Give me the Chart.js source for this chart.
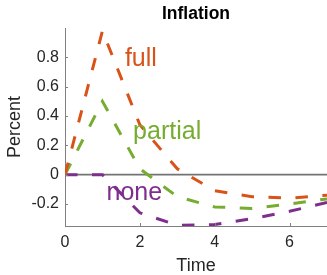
<!DOCTYPE html>
<html>
<head>
<meta charset="utf-8">
<script src="https://cdn.jsdelivr.net/npm/chart.js@4.4.1/dist/chart.umd.min.js"></script>
<style>
  html, body { margin: 0; padding: 0; background: #ffffff; }
  #wrap { width: 327px; height: 275px; position: relative; }
</style>
</head>
<body>
<div id="wrap"><canvas id="c" width="327" height="275"></canvas></div>
<script>
// ---- data ----
const time = [0, 1, 2, 3, 4, 5, 6, 7];
const full = [0, 0.98, 0.34, 0.04, -0.11, -0.15, -0.16, -0.14];
const partial = [0, 0.50, 0.04, -0.15, -0.22, -0.23, -0.20, -0.165];
const none = [0, 0, -0.26, -0.345, -0.34, -0.30, -0.25, -0.19];
const seriesNames = ['full', 'partial', 'none'];
const xTicks = [0, 2, 4, 6];
const xTickLabels = ['0', '2', '4', '6'];
const yTicks = [-0.2, 0, 0.2, 0.4, 0.6, 0.8];
const yTickLabels = ['-0.2', '0', '0.2', '0.4', '0.6', '0.8'];
const xRange = [0, 7];
const yRange = [-0.35, 1.0];
// in-plot label anchors (data coordinates)
const labelX = [1.6, 1.82, 1.11];
const labelY = [0.74, 0.245, -0.17];

const FONT = "'Liberation Sans', Arial, Helvetica, sans-serif";
const colors = ['#D95319', '#77AC30', '#7E2F8E'];
const AXIS = '#808080';

const toPts = arr => arr.map((v, i) => ({ x: time[i], y: v }));

const inward = {
  id: 'inward',
  afterDatasetsDraw(chart) {
    const ctx = chart.ctx;
    const xs = chart.scales.x, ys = chart.scales.y;
    ctx.save();
    ctx.font = '25px ' + FONT;
    ctx.textAlign = 'left';
    ctx.textBaseline = 'alphabetic';
    seriesNames.forEach((n, i) => {
      ctx.fillStyle = colors[i];
      ctx.fillText(n, xs.getPixelForValue(labelX[i]), ys.getPixelForValue(labelY[i]));
    });
    ctx.restore();
  },
  afterDraw(chart) {
    const ctx = chart.ctx;
    const xs = chart.scales.x, ys = chart.scales.y;
    const a = chart.chartArea;
    ctx.save();
    ctx.strokeStyle = AXIS;
    ctx.lineWidth = 1;
    ctx.beginPath();
    yTicks.forEach(v => {
      const p = Math.round(ys.getPixelForValue(v)) + 0.5;
      ctx.moveTo(a.left, p); ctx.lineTo(a.left + 3, p);
    });
    xTicks.forEach(v => {
      const p = Math.round(xs.getPixelForValue(v)) + 0.5;
      ctx.moveTo(p, a.bottom); ctx.lineTo(p, a.bottom - 3);
    });
    ctx.stroke();
    ctx.restore();
  }
};

const lineDs = (label, data, color) => ({
  label, data: toPts(data), borderColor: color, backgroundColor: color,
  borderWidth: 3, borderDash: [12.5, 14.5], borderCapStyle: 'butt',
  pointRadius: 0, tension: 0, fill: false, order: 1
});

new Chart(document.getElementById('c'), {
  type: 'line',
  data: {
    datasets: [
      lineDs(seriesNames[0], full, colors[0]),
      lineDs(seriesNames[1], partial, colors[1]),
      lineDs(seriesNames[2], none, colors[2]),
      {
        label: 'zero', data: [{ x: xRange[0], y: 0 }, { x: xRange[1], y: 0 }],
        borderColor: '#737373', borderWidth: 1.6, pointRadius: 0, order: 10
      }
    ]
  },
  options: {
    responsive: false,
    animation: false,
    devicePixelRatio: 1,
    layout: { padding: 0 },
    plugins: {
      legend: { display: false },
      tooltip: { enabled: false },
      title: {
        display: true, text: 'Inflation', color: '#000', fullSize: false,
        font: { family: FONT, size: 17.5, weight: 'bold', lineHeight: 1.2 },
        padding: { top: 4, bottom: 3 }
      }
    },
    scales: {
      x: {
        type: 'linear', min: xRange[0], max: xRange[1],
        afterBuildTicks: s => { s.ticks = xTicks.map(v => ({ value: v })); },
        afterFit: s => { s.height = 49; },
        grid: { display: true, drawOnChartArea: false, drawTicks: false },
        border: { display: true, color: AXIS, width: 1 },
        ticks: {
          padding: 7, color: '#262626', font: { family: FONT, size: 16 },
          maxRotation: 0, autoSkip: false,
          callback: (v, i) => xTickLabels[i]
        },
        title: {
          display: true, text: 'Time', color: '#262626',
          font: { family: FONT, size: 18, lineHeight: 1 },
          padding: { top: 0, bottom: 0 }
        }
      },
      y: {
        type: 'linear', min: yRange[0], max: yRange[1],
        afterBuildTicks: s => { s.ticks = yTicks.map(v => ({ value: v })); },
        afterFit: s => { s.width = 65; },
        grid: { display: true, drawOnChartArea: false, drawTicks: false },
        border: { display: true, color: AXIS, width: 1 },
        ticks: {
          padding: 6, color: '#262626', font: { family: FONT, size: 16 },
          autoSkip: false,
          callback: (v, i) => yTickLabels[i]
        },
        title: {
          display: true, text: 'Percent', color: '#262626',
          font: { family: FONT, size: 18, lineHeight: 1.2 },
          padding: { top: 4, bottom: 0 }
        }
      }
    }
  },
  plugins: [inward]
});
</script>
</body>
</html>
